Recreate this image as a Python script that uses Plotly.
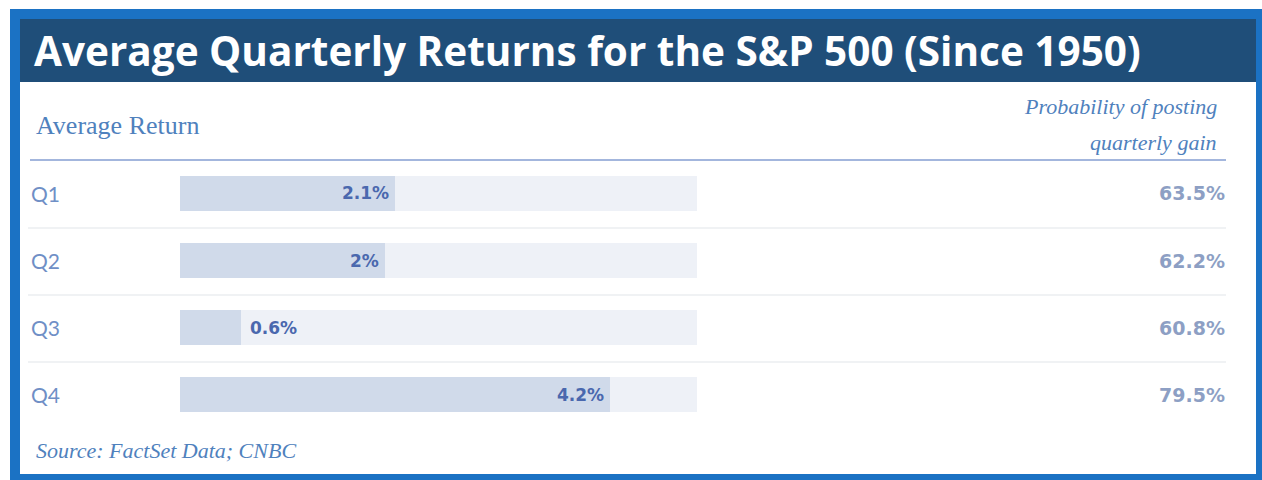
import plotly.graph_objects as go

quarters = ["Q1", "Q2", "Q3", "Q4"]
avg_return = [2.1, 2.0, 0.6, 4.2]
return_labels = ["2.1%", "2%", "0.6%", "4.2%"]
prob_gain = ["63.5%", "62.2%", "60.8%", "79.5%"]
track_max = 5.05

W, H = 1262, 480

def px(x):
    return x / W

def py(y):
    return 1 - y / H

fig = go.Figure()

# background track
fig.add_trace(go.Bar(
    y=quarters, x=[track_max] * len(quarters), orientation="h",
    marker=dict(color="#eef1f7", line=dict(width=0)),
    width=0.52, hoverinfo="skip", showlegend=False,
))
# value bars
fig.add_trace(go.Bar(
    y=quarters, x=avg_return, orientation="h",
    marker=dict(color="#d0daea", line=dict(width=0)),
    width=0.52, showlegend=False,
))

annotations = []
for q, v, lab, p in zip(quarters, avg_return, return_labels, prob_gain):
    inside = v > 1
    annotations.append(dict(
        x=v, y=q, xref="x", yref="y", text=lab, showarrow=False,
        xanchor="right" if inside else "left", xshift=-4 if inside else 7,
        font=dict(family="DejaVu Sans", size=17, color="#4a68ae", weight="bold"),
    ))
    annotations.append(dict(
        x=px(29), y=q, xref="paper", yref="y", text=q, showarrow=False,
        xanchor="left", font=dict(family="Lato", size=21, color="#6f8fc6"),
    ))
    annotations.append(dict(
        x=px(1227), y=q, xref="paper", yref="y", text=p, showarrow=False,
        xanchor="right", font=dict(family="DejaVu Sans", size=19, color="#8d9fc4", weight="bold"),
    ))

# titles and headers
annotations += [
    dict(x=px(32), y=py(51), xref="paper", yref="paper", showarrow=False,
         text="Average Quarterly Returns for the S&P 500 (Since 1950)",
         xanchor="left", yanchor="middle",
         font=dict(family="Open Sans", size=40.5, color="white", weight="bold")),
    dict(x=px(34), y=py(125), xref="paper", yref="paper", showarrow=False,
         text="Average Return", xanchor="left", yanchor="middle",
         font=dict(family="Liberation Serif", size=26, color="#4f81bd")),
    dict(x=px(1219), y=py(106), xref="paper", yref="paper", showarrow=False,
         text="<i>Probability of posting</i>", xanchor="right", yanchor="middle",
         font=dict(family="Liberation Serif", size=22, color="#4f81bd")),
    dict(x=px(1219), y=py(142), xref="paper", yref="paper", showarrow=False,
         text="<i>quarterly gain</i>", xanchor="right", yanchor="middle",
         font=dict(family="Liberation Serif", size=22, color="#4f81bd")),
    dict(x=px(34), y=py(450), xref="paper", yref="paper", showarrow=False,
         text="<i>Source: FactSet Data; CNBC</i>", xanchor="left", yanchor="middle",
         font=dict(family="Liberation Serif", size=22, color="#4f81bd")),
]

shapes = [
    # outer blue frame
    dict(type="rect", xref="paper", yref="paper", x0=px(10), x1=px(1262), y0=py(480), y1=py(9),
         fillcolor="#1b72c4", line=dict(width=0), layer="below"),
    # white interior
    dict(type="rect", xref="paper", yref="paper", x0=px(20), x1=px(1256), y0=py(474), y1=py(19),
         fillcolor="white", line=dict(width=0), layer="below"),
    # navy header
    dict(type="rect", xref="paper", yref="paper", x0=px(20), x1=px(1256), y0=py(82), y1=py(19),
         fillcolor="#1f4e79", line=dict(width=0), layer="below"),
    # header rule
    dict(type="line", xref="paper", yref="paper", x0=px(30), x1=px(1226), y0=py(160), y1=py(160),
         line=dict(color="#a3b6dd", width=2)),
]
for ysep in [228, 295, 362]:
    shapes.append(dict(type="line", xref="paper", yref="paper", x0=px(28), x1=px(1226),
                       y0=py(ysep), y1=py(ysep), line=dict(color="#f0f2f4", width=2),
                       layer="below"))

fig.update_layout(
    width=W, height=H, margin=dict(l=0, r=0, t=0, b=0),
    paper_bgcolor="white", plot_bgcolor="rgba(0,0,0,0)",
    barmode="overlay", bargap=0,
    xaxis=dict(domain=[px(180), px(697)], range=[0, track_max], visible=False, fixedrange=True),
    yaxis=dict(domain=[py(428), py(160)], categoryorder="array", categoryarray=quarters,
               range=[3.5, -0.5], visible=False, fixedrange=True),
    annotations=annotations, shapes=shapes,
)

fig.write_html("out.html", config={"displayModeBar": False},
               post_script="document.body.style.margin='0px';document.body.style.overflow='hidden';")
